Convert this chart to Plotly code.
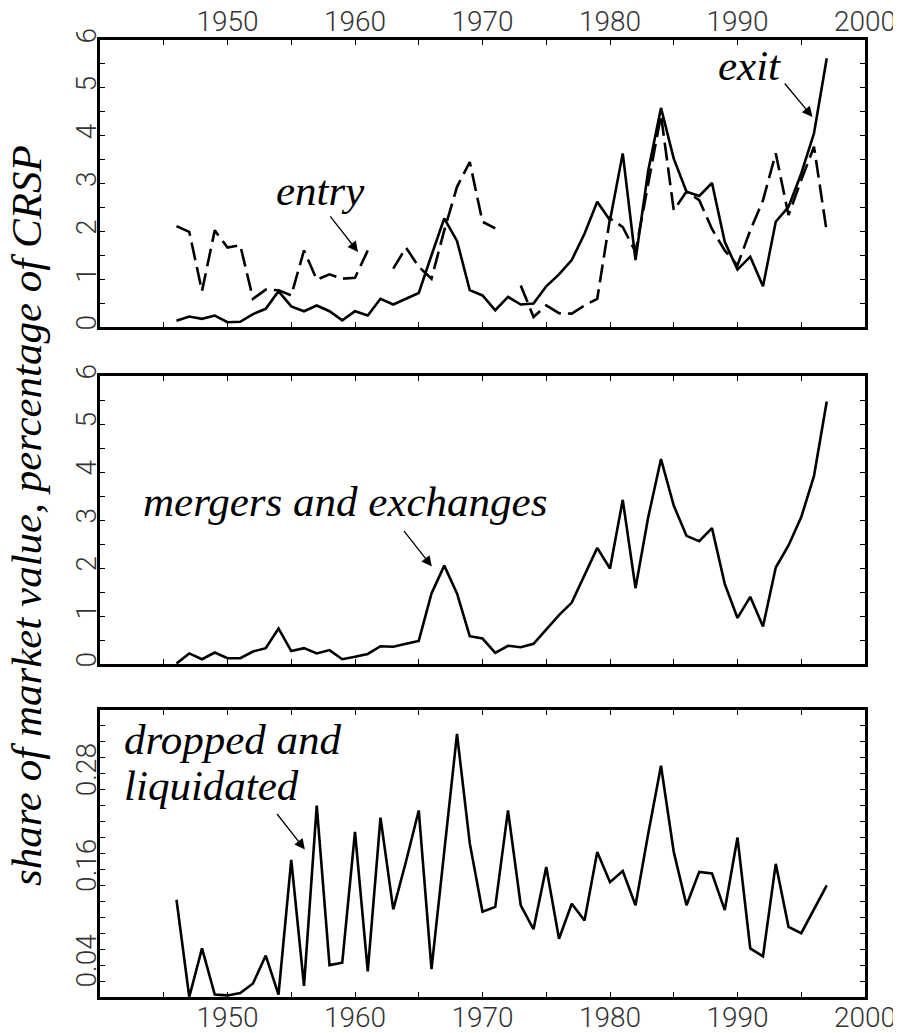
import plotly.graph_objects as go

years = list(range(1946, 1998))

exit_share = [0.13, 0.22, 0.17, 0.24, 0.10, 0.11, 0.27, 0.38, 0.75, 0.43,
              0.33, 0.45, 0.33, 0.14, 0.33, 0.24, 0.59, 0.47, 0.59, 0.71,
              1.50, 2.27, 1.80, 0.77, 0.66, 0.35, 0.63, 0.47, 0.49, 0.85,
              1.10, 1.40, 1.95, 2.62, 2.23, 3.63, 1.40, 3.27, 4.58, 3.52,
              2.83, 2.74, 3.01, 1.78, 1.20, 1.47, 0.85, 2.20, 2.51, 3.21,
              4.05, 5.62]

entry_share = [2.11, 1.99, 0.75, 2.02, 1.66, 1.71, 0.59, 0.78, 0.77, 0.66,
               1.60, 0.99, 1.10, 1.01, 1.03, 1.60, None, 1.22, 1.66, 1.26,
               1.01, 2.02, 2.93, 3.45, 2.20, 2.06, None, 0.87, 0.21, 0.45,
               0.29, 0.28, 0.45, 0.59, 2.27, 2.09, 1.57, 3.00, 4.43, 2.44,
               2.83, 2.65, 2.05, 1.60, 1.29, 2.02, 2.65, 3.63, 2.34, 3.07,
               3.77, 1.99]

mergers_share = [0.01, 0.22, 0.10, 0.24, 0.12, 0.12, 0.26, 0.33, 0.74, 0.27,
                 0.33, 0.22, 0.29, 0.10, 0.15, 0.21, 0.37, 0.36, 0.42, 0.48,
                 1.47, 2.05, 1.47, 0.58, 0.53, 0.23, 0.38, 0.35, 0.42, 0.71,
                 1.02, 1.28, 1.84, 2.42, 1.99, 3.42, 1.58, 3.06, 4.27, 3.30,
                 2.67, 2.56, 2.83, 1.67, 0.96, 1.40, 0.78, 2.01, 2.47, 3.06,
                 3.92, 5.47]

dropped_share = [0.122, 0.000, 0.061, 0.003, 0.002, 0.005, 0.017, 0.052, 0.003, 0.172,
                 0.014, 0.240, 0.040, 0.043, 0.207, 0.032, 0.225, 0.110, 0.170, 0.234,
                 0.035, 0.180, 0.330, 0.193, 0.107, 0.113, 0.234, 0.115, 0.085, 0.163,
                 0.073, 0.117, 0.096, 0.182, 0.144, 0.158, 0.115, 0.205, 0.290, 0.182,
                 0.115, 0.157, 0.155, 0.109, 0.200, 0.061, 0.051, 0.167, 0.088, 0.080,
                 0.110, 0.140]

x_tick_vals = [1950, 1960, 1970, 1980, 1990, 2000]
y_tick_vals_top = [0, 1, 2, 3, 4, 5, 6]
y_tick_vals_bottom = [0.04, 0.16, 0.28]
y_tick_text_bottom = ["0.04", "0.16", "0.28"]

LINE = dict(color="black", width=2.6)
TICKFONT = dict(family="Roboto", size=28, color="#333333", weight=300)
SERIF = dict(family="Liberation Serif, Times New Roman, Times, serif", size=43,
             color="black", style="italic")

fig = go.Figure()
fig.add_trace(go.Scatter(x=years, y=entry_share, mode="lines",
                         line=dict(color="black", width=2.6, dash="18px,7px"),
                         connectgaps=False, xaxis="x", yaxis="y"))
fig.add_trace(go.Scatter(x=years, y=exit_share, mode="lines", line=LINE,
                         xaxis="x", yaxis="y"))
fig.add_trace(go.Scatter(x=years, y=mergers_share, mode="lines", line=LINE,
                         xaxis="x2", yaxis="y2"))
fig.add_trace(go.Scatter(x=years, y=dropped_share, mode="lines", line=LINE,
                         xaxis="x3", yaxis="y3"))

# the page adds an 8px body margin, so the figure is 8px smaller each way
H = 957.0
def dom(top_px, bot_px):
    return [(997 - bot_px) / H, (997 - top_px) / H]

TICKSTYLE = dict(ticks="inside", ticklen=5, tickwidth=1.2, tickcolor="black")

common_x = dict(range=[1940, 2000], showline=True, linewidth=3, linecolor="black",
                mirror="allticks", tickvals=x_tick_vals,
                minor=dict(TICKSTYLE, dtick=5, tick0=1940),
                showgrid=False, zeroline=False, tickfont=TICKFONT,
                domain=[0, 1], automargin=False, **TICKSTYLE)
common_y = dict(showline=True, linewidth=3, linecolor="black", mirror="allticks",
                showgrid=False, zeroline=False, tickfont=TICKFONT, tickangle=-90,
                ticklabelstandoff=-10, automargin=False, **TICKSTYLE)

fig.update_layout(
    width=893, height=1025,
    margin=dict(l=92, r=36, t=32, b=36, autoexpand=False),
    paper_bgcolor="white", plot_bgcolor="white",
    showlegend=False,
    xaxis=dict(common_x, anchor="y", side="top", showticklabels=True,
               ticklabelstandoff=-5),
    xaxis2=dict(common_x, anchor="y2", showticklabels=False),
    xaxis3=dict(common_x, anchor="y3", side="bottom", ticklabelstandoff=-7),
    yaxis=dict(common_y, domain=dom(40, 327), range=[0, 6], tickvals=y_tick_vals_top,
               minor=dict(TICKSTYLE, dtick=0.5, tick0=0), anchor="x"),
    yaxis2=dict(common_y, domain=dom(376, 664), range=[0, 6], tickvals=y_tick_vals_top,
                minor=dict(TICKSTYLE, dtick=0.5, tick0=0), anchor="x2"),
    yaxis3=dict(common_y, domain=dom(710, 997), range=[0, 0.36],
                tickvals=y_tick_vals_bottom, ticktext=y_tick_text_bottom,
                minor=dict(TICKSTYLE, dtick=0.02, tick0=0), anchor="x3"),
)

ann = []
ann.append(dict(text="entry", x=1957.27, y=2.86, xref="x", yref="y",
                showarrow=False, font=SERIF, xanchor="center", yanchor="middle"))
ann.append(dict(text="exit", x=1990.94, y=5.47, xref="x", yref="y",
                showarrow=False, font=SERIF, xanchor="center", yanchor="middle"))
ann.append(dict(text="mergers and exchanges", x=1959.21, y=3.375, xref="x2", yref="y2",
                showarrow=False, font=SERIF, xanchor="center", yanchor="middle"))
ann.append(dict(text="dropped and", x=1941.74, y=0.323, xref="x3", yref="y3",
                showarrow=False, font=SERIF, xanchor="left", yanchor="middle"))
ann.append(dict(text="liquidated", x=1941.74, y=0.265, xref="x3", yref="y3",
                showarrow=False, font=SERIF, xanchor="left", yanchor="middle"))
arrow_style = dict(text="", showarrow=True, arrowhead=2, arrowsize=1.6,
                   arrowwidth=1.3, arrowcolor="black", axref="pixel", ayref="pixel")
ann.append(dict(arrow_style, x=1960.24, y=1.57, xref="x", yref="y", ax=-29, ay=-37))
ann.append(dict(arrow_style, x=1995.88, y=4.39, xref="x", yref="y", ax=-29, ay=-35))
ann.append(dict(arrow_style, x=1966.03, y=2.03, xref="x2", yref="y2", ax=-29, ay=-37))
ann.append(dict(arrow_style, x=1956.07, y=0.185, xref="x3", yref="y3", ax=-29, ay=-37))
ann.append(dict(text="share of market value, percentage of CRSP",
                x=(27 - 100) / 765.0, y=(997 - 516) / H, xref="paper", yref="paper",
                showarrow=False, textangle=-90, font=SERIF,
                xanchor="center", yanchor="middle"))
fig.update_layout(annotations=ann)

fig.write_html("out.html")
